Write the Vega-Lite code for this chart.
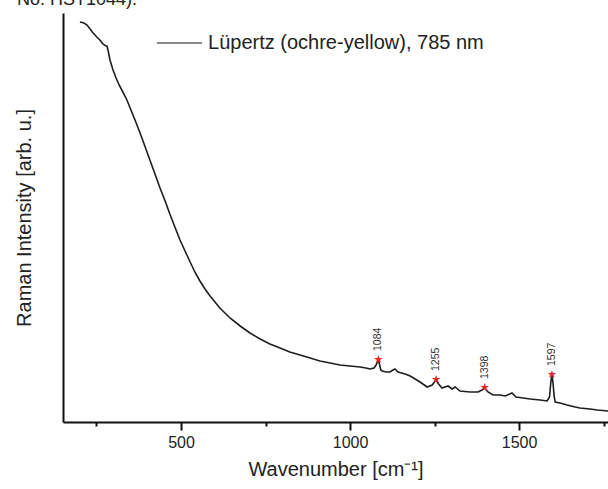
{
  "$schema": "https://vega.github.io/schema/vega-lite/v6.json",
  "width": 545,
  "height": 409,
  "autosize": {"type": "none"},
  "padding": {"left": 63, "top": 13, "right": 0, "bottom": 67},
  "background": "white",
  "title": {
    "text": "No. HST1044).",
    "anchor": "start",
    "frame": "group",
    "dx": -46,
    "dy": 11,
    "offset": 1,
    "baseline": "alphabetic",
    "font": "Liberation Sans",
    "fontSize": 18,
    "fontWeight": "normal",
    "color": "#222"
  },
  "datasets": {
    "spectrum": [
      {"wn": 201, "intensity": 400}, {"wn": 213, "intensity": 399}, {"wn": 222, "intensity": 397},
      {"wn": 231, "intensity": 393}, {"wn": 240, "intensity": 389}, {"wn": 251, "intensity": 385},
      {"wn": 260, "intensity": 382}, {"wn": 269, "intensity": 378}, {"wn": 278, "intensity": 376},
      {"wn": 281, "intensity": 376}, {"wn": 284, "intensity": 372}, {"wn": 290, "intensity": 362},
      {"wn": 299, "intensity": 352}, {"wn": 308, "intensity": 344}, {"wn": 317, "intensity": 337},
      {"wn": 328, "intensity": 330}, {"wn": 340, "intensity": 322}, {"wn": 352, "intensity": 312},
      {"wn": 364, "intensity": 302}, {"wn": 379, "intensity": 289}, {"wn": 393, "intensity": 276},
      {"wn": 408, "intensity": 262}, {"wn": 423, "intensity": 248}, {"wn": 438, "intensity": 234},
      {"wn": 453, "intensity": 221}, {"wn": 467, "intensity": 208}, {"wn": 482, "intensity": 195},
      {"wn": 497, "intensity": 182}, {"wn": 512, "intensity": 171}, {"wn": 527, "intensity": 160},
      {"wn": 541, "intensity": 150}, {"wn": 556, "intensity": 141}, {"wn": 571, "intensity": 133},
      {"wn": 586, "intensity": 126}, {"wn": 615, "intensity": 114}, {"wn": 645, "intensity": 104},
      {"wn": 675, "intensity": 96}, {"wn": 704, "intensity": 89}, {"wn": 734, "intensity": 83},
      {"wn": 763, "intensity": 78}, {"wn": 793, "intensity": 74}, {"wn": 822, "intensity": 70},
      {"wn": 852, "intensity": 67}, {"wn": 882, "intensity": 64}, {"wn": 911, "intensity": 61},
      {"wn": 941, "intensity": 59}, {"wn": 970, "intensity": 57}, {"wn": 1000, "intensity": 56},
      {"wn": 1030, "intensity": 55}, {"wn": 1047, "intensity": 54}, {"wn": 1059, "intensity": 53},
      {"wn": 1071, "intensity": 54}, {"wn": 1077, "intensity": 57}, {"wn": 1081, "intensity": 60},
      {"wn": 1084, "intensity": 63}, {"wn": 1087, "intensity": 58}, {"wn": 1091, "intensity": 52},
      {"wn": 1095, "intensity": 51}, {"wn": 1107, "intensity": 50}, {"wn": 1118, "intensity": 50},
      {"wn": 1127, "intensity": 52}, {"wn": 1133, "intensity": 53}, {"wn": 1142, "intensity": 50},
      {"wn": 1163, "intensity": 48}, {"wn": 1178, "intensity": 46}, {"wn": 1207, "intensity": 40},
      {"wn": 1228, "intensity": 35}, {"wn": 1243, "intensity": 37}, {"wn": 1254, "intensity": 42},
      {"wn": 1262, "intensity": 38}, {"wn": 1272, "intensity": 34}, {"wn": 1290, "intensity": 36},
      {"wn": 1302, "intensity": 33}, {"wn": 1311, "intensity": 35}, {"wn": 1325, "intensity": 31},
      {"wn": 1355, "intensity": 30}, {"wn": 1379, "intensity": 30}, {"wn": 1390, "intensity": 32},
      {"wn": 1398, "intensity": 34}, {"wn": 1408, "intensity": 30}, {"wn": 1423, "intensity": 27},
      {"wn": 1444, "intensity": 27}, {"wn": 1459, "intensity": 26}, {"wn": 1479, "intensity": 29},
      {"wn": 1491, "intensity": 25}, {"wn": 1512, "intensity": 24}, {"wn": 1533, "intensity": 23},
      {"wn": 1562, "intensity": 22}, {"wn": 1583, "intensity": 21}, {"wn": 1590, "intensity": 25},
      {"wn": 1594, "intensity": 40}, {"wn": 1597, "intensity": 48}, {"wn": 1600, "intensity": 40},
      {"wn": 1604, "intensity": 25}, {"wn": 1607, "intensity": 20}, {"wn": 1621, "intensity": 19},
      {"wn": 1642, "intensity": 17}, {"wn": 1666, "intensity": 15}, {"wn": 1680, "intensity": 14},
      {"wn": 1710, "intensity": 13}, {"wn": 1731, "intensity": 12}, {"wn": 1763, "intensity": 11}
    ],
    "peaks": [
      {"wn": 1084, "intensity": 62, "label": "1084", "star": "★"},
      {"wn": 1255, "intensity": 42, "label": "1255", "star": "★"},
      {"wn": 1398, "intensity": 34, "label": "1398", "star": "★"},
      {"wn": 1597, "intensity": 47, "label": "1597", "star": "★"}
    ],
    "legendline": [
      {"wn": 429, "wn2": 562, "intensity": 379, "label": "Lüpertz (ochre-yellow), 785 nm", "labelwn": 580}
    ]
  },
  "layer": [
    {
      "data": {"name": "spectrum"},
      "mark": {"type": "line", "strokeWidth": 1.6, "color": "#1e1e1e"},
      "encoding": {
        "x": {
          "field": "wn", "type": "quantitative",
          "scale": {"domain": [151, 1763], "nice": false, "zero": false},
          "axis": {
            "title": "Wavenumber [cm⁻¹]",
            "values": [250, 500, 750, 1000, 1250, 1500, 1750],
            "format": "d",
            "labelExpr": "datum.value % 500 === 0 ? datum.label : ''",
            "grid": false,
            "tickSize": {"condition": {"test": "datum.value % 500 === 0", "value": 8}, "value": 4},
            "labelPadding": 4,
            "titlePadding": 9
          }
        },
        "y": {
          "field": "intensity", "type": "quantitative",
          "scale": {"domain": [0, 409], "nice": false},
          "axis": {
            "title": "Raman Intensity [arb. u.]",
            "ticks": false, "labels": false, "grid": false,
            "titlePadding": 29
          }
        }
      }
    },
    {
      "data": {"name": "peaks"},
      "mark": {"type": "text", "align": "center", "baseline": "middle", "fontSize": 11, "font": "DejaVu Sans", "color": "#e8262a"},
      "encoding": {
        "x": {"field": "wn", "type": "quantitative"},
        "y": {"field": "intensity", "type": "quantitative"},
        "text": {"field": "star"}
      }
    },
    {
      "data": {"name": "peaks"},
      "mark": {"type": "text", "angle": 270, "align": "left", "baseline": "middle", "dx": 9, "fontSize": 10.5, "font": "Liberation Sans", "color": "#333"},
      "encoding": {
        "x": {"field": "wn", "type": "quantitative"},
        "y": {"field": "intensity", "type": "quantitative"},
        "text": {"field": "label"}
      }
    },
    {
      "data": {"name": "legendline"},
      "mark": {"type": "rule", "color": "#888888", "strokeWidth": 2},
      "encoding": {
        "x": {"field": "wn", "type": "quantitative"},
        "x2": {"field": "wn2"},
        "y": {"field": "intensity", "type": "quantitative"}
      }
    },
    {
      "data": {"name": "legendline"},
      "mark": {"type": "text", "align": "left", "baseline": "middle", "fontSize": 20, "font": "Liberation Sans", "color": "#222"},
      "encoding": {
        "x": {"field": "labelwn", "type": "quantitative"},
        "y": {"field": "intensity", "type": "quantitative"},
        "text": {"field": "label"}
      }
    }
  ],
  "config": {
    "view": {"stroke": null},
    "axis": {
      "domainColor": "#111",
      "domainWidth": 2,
      "tickColor": "#111",
      "tickWidth": 2,
      "labelFont": "Liberation Sans",
      "labelFontSize": 16,
      "labelColor": "#222",
      "titleFont": "Liberation Sans",
      "titleFontSize": 20,
      "titleFontWeight": "normal",
      "titleColor": "#222"
    }
  }
}
